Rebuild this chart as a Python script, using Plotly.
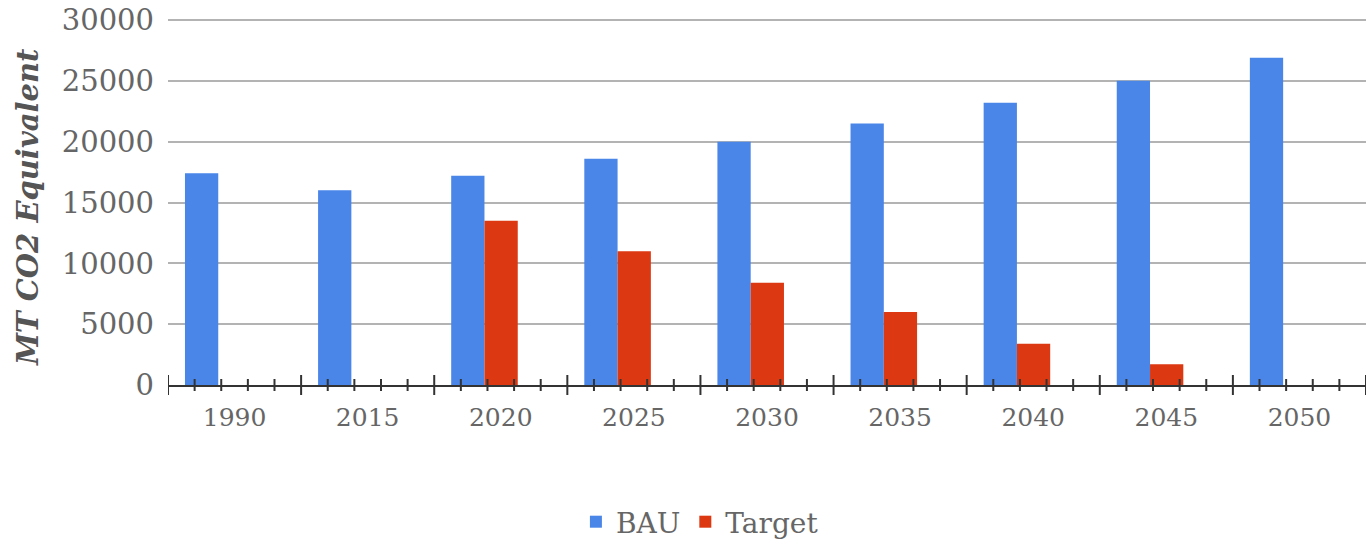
import plotly.graph_objects as go

# Emissions by year, MT CO2 equivalent
years = ["1990", "2015", "2020", "2025", "2030", "2035", "2040", "2045", "2050"]
bau = [17400, 16000, 17200, 18600, 20000, 21500, 23200, 25000, 26900]
target = [None, None, 13500, 11000, 8400, 6000, 3400, 1700, None]
y_ticks = [0, 5000, 10000, 15000, 20000, 25000, 30000]
y_tick_text = ["0", "5000", "10000", "15000", "20000", "25000", "30000"]

BLUE = "#4a86e8"
RED = "#dc3912"
TEXT = "#666666"
FONT = "DejaVu Serif"

fig = go.Figure()
fig.add_trace(go.Bar(name="BAU", x=years, y=bau, marker=dict(color=BLUE, line=dict(width=0)),
                     width=0.25, offset=-0.3725))
fig.add_trace(go.Bar(name="Target", x=years, y=target, marker=dict(color=RED, line=dict(width=0)),
                     width=0.25, offset=-0.1225))

# Tick marks crossing the category axis: a long one between categories,
# short ones at each fifth of a category.
plot_h = 368.0
shapes = []
n = len(years)
for i in range(n + 1):
    xb = i - 0.5
    shapes.append(dict(type="line", xref="x", yref="paper", x0=xb, x1=xb,
                       y0=-10 / plot_h, y1=10 / plot_h, line=dict(color="#333333", width=2)))
    if i < n:
        for k in range(1, 5):
            xm = xb + k * 0.2
            shapes.append(dict(type="line", xref="x", yref="paper", x0=xm, x1=xm,
                               y0=-6 / plot_h, y1=6 / plot_h, line=dict(color="#333333", width=2)))

fig.update_layout(
    width=1366, height=540,
    margin=dict(l=168, r=0, t=17, b=155, autoexpand=False),
    plot_bgcolor="white", paper_bgcolor="white",
    font=dict(family=FONT, color=TEXT),
    barmode="overlay",
    shapes=shapes,
    showlegend=True,
    legend=dict(orientation="h", x=0.444, xanchor="center", y=-137 / plot_h, yanchor="middle",
                font=dict(size=28, color=TEXT), itemwidth=30, traceorder="normal"),
    annotations=[dict(text="<b><i>MT CO2 Equivalent</i></b>", xref="paper", yref="paper",
                      x=-140 / 1198, y=178 / plot_h, xanchor="center", yanchor="middle",
                      textangle=-90, showarrow=False,
                      font=dict(size=29, color="#555555", family=FONT))],
)
fig.update_xaxes(
    type="category", range=[-0.5, n - 0.5], showgrid=False, ticks="",
    showline=True, linecolor="#333333", linewidth=2,
    tickfont=dict(size=25, color=TEXT), ticklabelstandoff=9,
)
fig.update_yaxes(
    range=[0, 30250], tickvals=y_ticks, ticktext=y_tick_text,
    showgrid=True, gridcolor="#b3b3b3", gridwidth=2,
    zeroline=False, showline=False, ticks="",
    tickfont=dict(size=29, color=TEXT), ticklabelstandoff=13,
)

fig.write_html("out.html")
